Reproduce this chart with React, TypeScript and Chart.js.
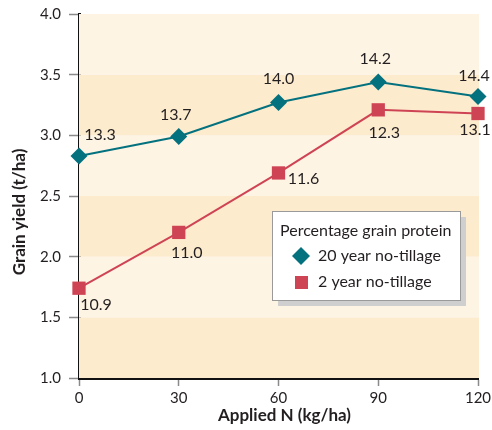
import React, { useEffect, useRef } from "react";
import { Chart, registerables } from "chart.js";

Chart.register(...registerables);

const nRates = [0, 30, 60, 90, 120];
const yield20 = [2.83, 2.99, 3.27, 3.44, 3.32];
const yield2 = [1.74, 2.2, 2.69, 3.21, 3.18];
const protein20 = [13.3, 13.7, 14.0, 14.2, 14.4];
const protein2 = [10.9, 11.0, 11.6, 12.3, 13.1];
const seriesNames = ["20 year no-tillage", "2 year no-tillage"];
const legendTitle = "Percentage grain protein";
const xTitle = "Applied N (kg/ha)";
const yTitle = "Grain yield (t/ha)";

// label offsets (px) relative to each point
const offsets20 = [[21, -21], [-3, -22], [0, -24], [-3, -23], [-4, -21]];
const offsets2 = [[17, 17], [8, 20], [25, 6], [6, 23], [-3, 16]];

const TEAL = "#04717f";
const RED = "#cf4455";
const FONT = "Lato, 'Noto Sans', sans-serif";

const bandsPlugin = {
  id: "bands",
  beforeDatasetsDraw(chart: any) {
    const { ctx, chartArea, scales } = chart;
    const y = scales.y;
    ctx.save();
    for (let v = 1; v < 4; v += 0.5) {
      const top = y.getPixelForValue(v + 0.5);
      const bot = y.getPixelForValue(v);
      const idx = Math.round((v - 1) / 0.5);
      ctx.fillStyle = idx % 2 === 0 ? "#fdebcd" : "#fef4e3";
      ctx.fillRect(chartArea.left, top, chartArea.right - chartArea.left + 1, bot - top);
    }
    ctx.restore();
  },
};

const labelsPlugin = {
  id: "pointLabels",
  afterDatasetsDraw(chart: any) {
    const { ctx } = chart;
    const sets = [
      { vals: protein20, off: offsets20 },
      { vals: protein2, off: offsets2 },
    ];
    ctx.save();
    ctx.font = `16px ${FONT}`;
    ctx.fillStyle = "#231f20";
    ctx.textAlign = "center";
    ctx.textBaseline = "middle";
    sets.forEach((s, di) => {
      const meta = chart.getDatasetMeta(di);
      meta.data.forEach((el: any, i: number) => {
        ctx.fillText(s.vals[i].toFixed(1), el.x + s.off[i][0], el.y + s.off[i][1]);
      });
    });
    ctx.restore();
  },
};

const decorPlugin = {
  id: "decor",
  afterDraw(chart: any) {
    const { ctx, chartArea } = chart;
    const ca = chartArea;
    ctx.save();
    // axis titles
    ctx.fillStyle = "#231f20";
    ctx.font = `bold 17px ${FONT}`;
    ctx.textAlign = "center";
    ctx.textBaseline = "middle";
    ctx.fillText(xTitle, (ca.left + ca.right) / 2 + 6, ca.bottom + 38);
    ctx.save();
    ctx.translate(20, (ca.top + ca.bottom) / 2 + 16);
    ctx.rotate(-Math.PI / 2);
    ctx.fillText(yTitle, 0, 0);
    ctx.restore();

    // legend
    const bx = ca.left + 193;
    const by = ca.top + 197;
    const bw = 188;
    const bh = 89;
    ctx.fillStyle = "#cfcfcf";
    ctx.fillRect(bx + 6, by + 6, bw, bh);
    ctx.fillStyle = "#ffffff";
    ctx.fillRect(bx, by, bw, bh);
    ctx.strokeStyle = "#9a9a9a";
    ctx.lineWidth = 1;
    ctx.strokeRect(bx + 0.5, by + 0.5, bw, bh);

    ctx.fillStyle = "#231f20";
    ctx.font = `16px ${FONT}`;
    ctx.textAlign = "left";
    ctx.fillText(legendTitle, bx + 8, by + 20);
    ctx.fillText(seriesNames[0], bx + 46, by + 45);
    ctx.fillText(seriesNames[1], bx + 46, by + 71);
    // diamond
    const dx = bx + 29, dy = by + 45, r = 9;
    ctx.fillStyle = TEAL;
    ctx.beginPath();
    ctx.moveTo(dx, dy - r);
    ctx.lineTo(dx + r, dy);
    ctx.lineTo(dx, dy + r);
    ctx.lineTo(dx - r, dy);
    ctx.closePath();
    ctx.fill();
    // square
    ctx.fillStyle = RED;
    ctx.fillRect(bx + 23, by + 65, 13, 13);
    ctx.restore();
  },
};

export default function App() {
  const ref = useRef<HTMLCanvasElement>(null);

  useEffect(() => {
    if (!ref.current) return;
    const chart = new Chart(ref.current, {
      type: "line",
      data: {
        datasets: [
          {
            label: seriesNames[0],
            data: nRates.map((x, i) => ({ x, y: yield20[i] })),
            borderColor: TEAL,
            backgroundColor: TEAL,
            borderWidth: 2,
            pointStyle: "rectRot",
            pointRadius: 8.5,
            pointHoverRadius: 8.5,
            pointBorderWidth: 0,
            clip: false as any,
          },
          {
            label: seriesNames[1],
            data: nRates.map((x, i) => ({ x, y: yield2[i] })),
            borderColor: RED,
            backgroundColor: RED,
            borderWidth: 2,
            pointStyle: "rect",
            pointRadius: 9.4,
            pointHoverRadius: 9.4,
            pointBorderWidth: 0,
            clip: false as any,
          },
        ],
      },
      options: {
        animation: false,
        responsive: true,
        maintainAspectRatio: false,
        layout: { padding: { top: 14, right: 14, left: 0, bottom: 0 } },
        plugins: {
          legend: { display: false },
          tooltip: { enabled: false },
        },
        scales: {
          x: {
            type: "linear",
            min: 0,
            max: 120,
            ticks: {
              stepSize: 30,
              color: "#231f20",
              font: { family: FONT, size: 15 },
              padding: 3,
            },
            grid: {
              drawOnChartArea: false,
              drawTicks: true,
              tickLength: 8,
              tickColor: "#8a8a8a",
              tickWidth: 1.5,
            },
            border: { color: "#111", width: 3 },
            afterFit(scale: any) {
              scale.height = 52;
              scale.paddingLeft = 0;
              scale.paddingRight = 0;
            },
          },
          y: {
            type: "linear",
            min: 1,
            max: 4,
            ticks: {
              stepSize: 0.5,
              color: "#231f20",
              font: { family: FONT, size: 15 },
              padding: 8,
              callback: (v: any) => Number(v).toFixed(1),
            },
            grid: {
              drawOnChartArea: false,
              drawTicks: true,
              tickLength: 10,
              tickColor: "#8a8a8a",
              tickWidth: 1.5,
            },
            border: { color: "#111", width: 3 },
            afterFit(scale: any) {
              scale.width = 79;
              scale.paddingTop = 0;
              scale.paddingBottom = 0;
            },
          },
        },
      },
      plugins: [bandsPlugin, labelsPlugin, decorPlugin],
    });
    return () => chart.destroy();
  }, []);

  return (
    <div style={{ position: "absolute", left: 0, top: 0, width: 492, height: 430, background: "#fff" }}>
      <canvas ref={ref} />
    </div>
  );
}
